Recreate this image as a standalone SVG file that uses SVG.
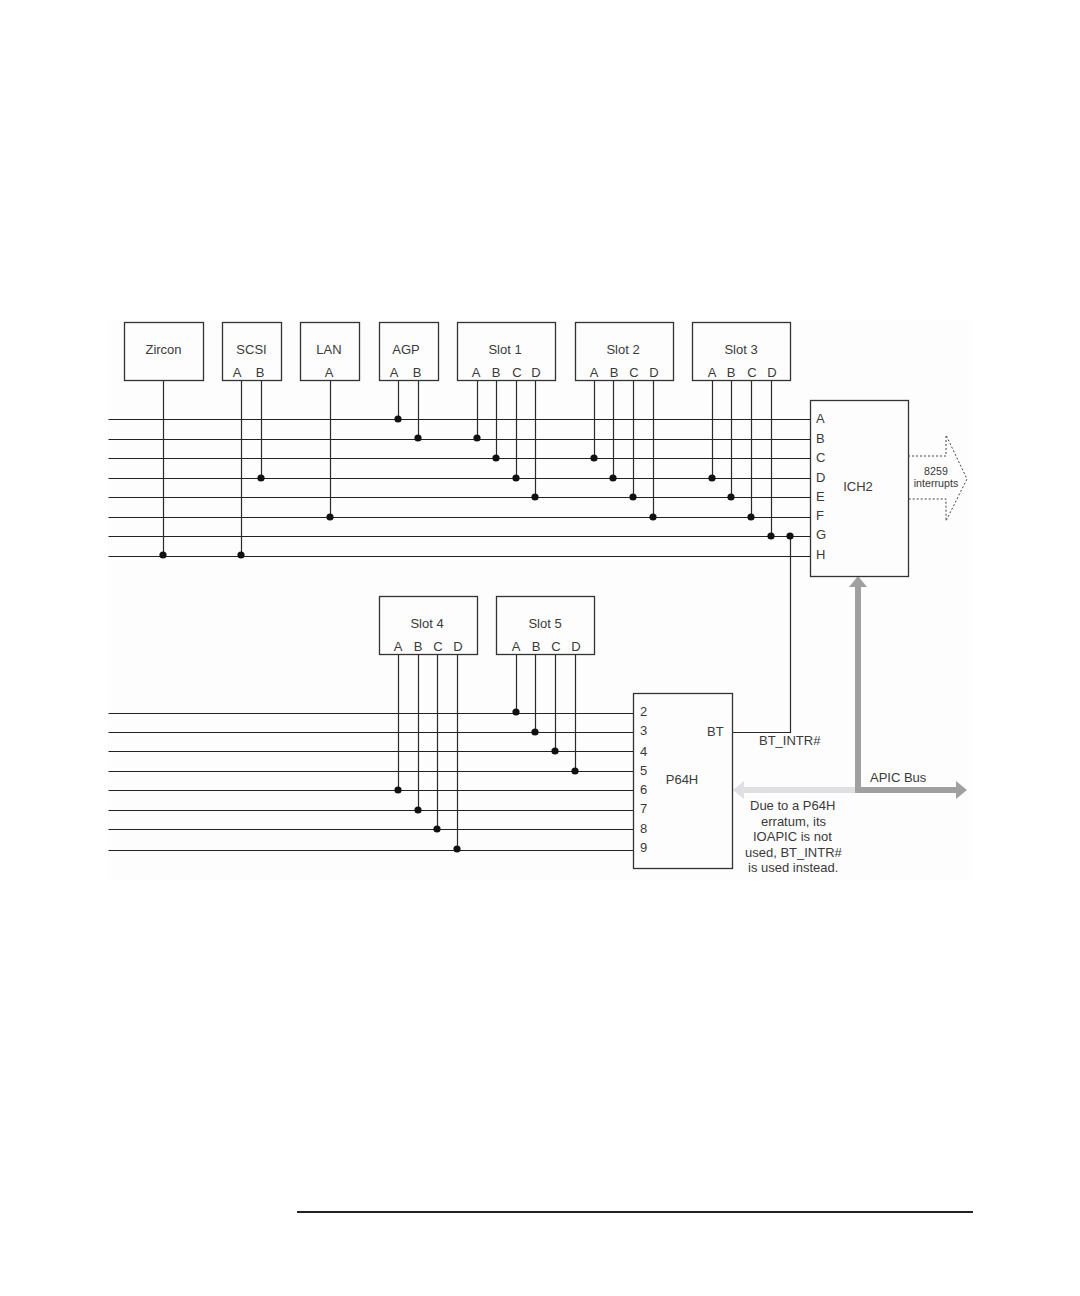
<svg xmlns="http://www.w3.org/2000/svg" width="1080" height="1296" viewBox="0 0 1080 1296">
<defs>
<style>
.b{fill:none;stroke:#333;stroke-width:1.3;transform:translate(.5px,.5px)}
.w{fill:none;stroke:#2a2a2a;stroke-width:1.2;transform:translate(.5px,.5px)}
.h{fill:none;stroke:#222;stroke-width:1.2;transform:translate(.5px,.5px)}
text{font-family:"Liberation Sans",Arial,sans-serif;font-size:13px;fill:#3a3a3a}
.m{text-anchor:middle}
.d{fill:#111;stroke:none}
.s{font-size:10.700px}
</style>
<marker id="ga" markerUnits="userSpaceOnUse" markerWidth="12" markerHeight="20" refX="0" refY="9" orient="auto"><path d="M0 0L11 9L0 18Z" fill="#a0a0a0"/></marker>
<marker id="la" markerUnits="userSpaceOnUse" markerWidth="12" markerHeight="20" refX="0" refY="9" orient="auto"><path d="M0 0L11 9L0 18Z" fill="#e0e0e4"/></marker>
</defs>
<rect width="1080" height="1296" fill="#fff"/>
<rect x="108" y="320" width="864" height="560" fill="#fdfdfd"/>
<g id="connectors">
<path class="h" d="M108 419H810M108 439H810M108 458H810M108 478H810M108 497H810M108 517H810M108 536H810M108 556H810"/>
<path class="h" d="M108 713H633M108 732H633M108 751H633M108 771H633M108 790H633M108 810H633M108 829H633M108 850H633"/>
<path class="w" d="M163 380V555M241 380V555M261 380V478M330 380V517M398 380V419M418 380V438M477 380V438M496 380V458M516 380V478M535 380V497M594 380V458M613 380V478M633 380V497M653 380V517M712 380V478M731 380V497M751 380V517M771 380V536M790 536V732H732"/>
<path class="w" d="M398 654V790M418 654V810M437 654V829M457 654V849M516 654V712M535 654V732M555 654V751M575 654V771"/>
<path d="M858 790H744" fill="none" stroke="#e0e0e4" stroke-width="6" marker-end="url(#la)"/>
<path d="M858 793V587" fill="none" stroke="#a0a0a0" stroke-width="6" marker-end="url(#ga)"/>
<path d="M855 790H956" fill="none" stroke="#a0a0a0" stroke-width="6" marker-end="url(#ga)"/>
<path d="M908 456H946V435L967 479L946 521V499H908" fill="none" stroke="#444" stroke-width="1" stroke-dasharray="2 2"/>
<g class="d">
<circle cx="398" cy="419" r="3.6"/><circle cx="418" cy="438" r="3.6"/><circle cx="477" cy="438" r="3.6"/><circle cx="496" cy="458" r="3.6"/><circle cx="594" cy="458" r="3.6"/><circle cx="261" cy="478" r="3.6"/><circle cx="516" cy="478" r="3.6"/><circle cx="613" cy="478" r="3.6"/><circle cx="712" cy="478" r="3.6"/><circle cx="535" cy="497" r="3.6"/><circle cx="633" cy="497" r="3.6"/><circle cx="731" cy="497" r="3.6"/><circle cx="330" cy="517" r="3.6"/><circle cx="653" cy="517" r="3.6"/><circle cx="751" cy="517" r="3.6"/><circle cx="771" cy="536" r="3.6"/><circle cx="790" cy="536" r="3.6"/><circle cx="163" cy="555" r="3.6"/><circle cx="241" cy="555" r="3.6"/>
<circle cx="516" cy="712" r="3.6"/><circle cx="535" cy="732" r="3.6"/><circle cx="555" cy="751" r="3.6"/><circle cx="575" cy="771" r="3.6"/><circle cx="398" cy="790" r="3.6"/><circle cx="418" cy="810" r="3.6"/><circle cx="437" cy="829" r="3.6"/><circle cx="457" cy="849" r="3.6"/>
</g>
</g>
<g id="zircon"><rect class="b" x="124" y="322" width="79" height="58"/><text class="m" x="163.500" y="354">Zircon</text></g>
<g id="scsi"><rect class="b" x="222" y="322" width="59" height="58"/><text class="m" x="251.500" y="354">SCSI</text><text class="m" x="237" y="377">A</text><text class="m" x="260" y="377">B</text></g>
<g id="lan"><rect class="b" x="300" y="322" width="59" height="58"/><text class="m" x="329" y="354">LAN</text><text class="m" x="329" y="377">A</text></g>
<g id="agp"><rect class="b" x="379" y="322" width="59" height="58"/><text class="m" x="406" y="354">AGP</text><text class="m" x="394" y="377">A</text><text class="m" x="417" y="377">B</text></g>
<g id="slot1"><rect class="b" x="457" y="322" width="98" height="58"/><text class="m" x="505" y="354">Slot 1</text><text class="m" x="476" y="377">A</text><text class="m" x="496" y="377">B</text><text class="m" x="517" y="377">C</text><text class="m" x="536" y="377">D</text></g>
<g id="slot2"><rect class="b" x="575" y="322" width="98" height="58"/><text class="m" x="623" y="354">Slot 2</text><text class="m" x="594" y="377">A</text><text class="m" x="614" y="377">B</text><text class="m" x="634" y="377">C</text><text class="m" x="654" y="377">D</text></g>
<g id="slot3"><rect class="b" x="692" y="322" width="98" height="58"/><text class="m" x="741" y="354">Slot 3</text><text class="m" x="712" y="377">A</text><text class="m" x="731" y="377">B</text><text class="m" x="752" y="377">C</text><text class="m" x="772" y="377">D</text></g>
<g id="ich2"><rect class="b" x="810" y="400" width="98" height="176"/><text class="m" x="858" y="491">ICH2</text>
<text x="816" y="423">A</text><text x="816" y="443">B</text><text x="816" y="462">C</text><text x="816" y="482">D</text><text x="816" y="501">E</text><text x="816" y="520">F</text><text x="816" y="539">G</text><text x="816" y="559">H</text></g>
<g id="interrupts"><text class="m s" x="936" y="475">8259</text><text class="m s" x="936" y="487">interrupts</text></g>
<g id="slot4"><rect class="b" x="379" y="596" width="98" height="58"/><text class="m" x="427" y="628">Slot 4</text><text class="m" x="398" y="651">A</text><text class="m" x="418" y="651">B</text><text class="m" x="438" y="651">C</text><text class="m" x="458" y="651">D</text></g>
<g id="slot5"><rect class="b" x="496" y="596" width="98" height="58"/><text class="m" x="545" y="628">Slot 5</text><text class="m" x="516" y="651">A</text><text class="m" x="536" y="651">B</text><text class="m" x="556" y="651">C</text><text class="m" x="576" y="651">D</text></g>
<g id="p64h"><rect class="b" x="633" y="693" width="99" height="175"/><text class="m" x="682" y="784">P64H</text><text x="707" y="736">BT</text>
<text x="640" y="716">2</text><text x="640" y="735">3</text><text x="640" y="756">4</text><text x="640" y="775">5</text><text x="640" y="794">6</text><text x="640" y="813">7</text><text x="640" y="833">8</text><text x="640" y="852">9</text></g>
<text id="bt-intr" x="759" y="745">BT_INTR#</text>
<text id="apic" x="870" y="782">APIC Bus</text>
<g id="note"><text x="750" y="810">Due to a P64H</text><text x="761" y="826">erratum, its</text><text x="753" y="841">IOAPIC is not</text><text x="745" y="857">used, BT_INTR#</text><text x="748" y="872">is used instead.</text></g>
<path id="rule" d="M297 1212H973" stroke="#222" stroke-width="2" fill="none"/>
</svg>
